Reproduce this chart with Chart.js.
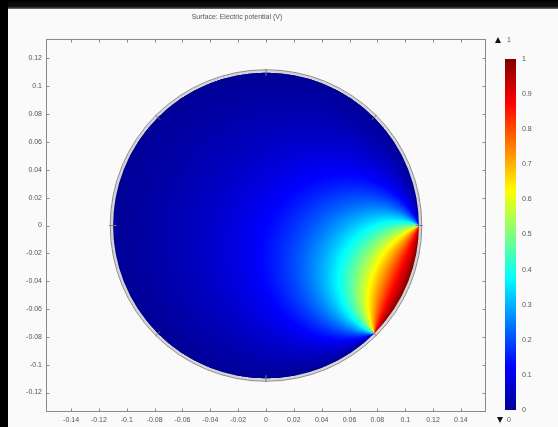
<!DOCTYPE html>
<html>
<head>
<meta charset="utf-8">
<script src="https://cdn.jsdelivr.net/npm/chart.js@4/dist/chart.umd.min.js"></script>
<style>
  html, body { margin: 0; padding: 0; background: #fafafa; }
  #wrap { position: relative; width: 558px; height: 427px; }
  canvas { display: block; }
</style>
</head>
<body>
<div id="wrap"><canvas id="c" width="558" height="427"></canvas></div>
<script>
// Disk geometry (m) and boundary conditions
const diskRadius = [0.11];
const electrodeArcDeg = [-45, 0];          // arc held at the electrode potential
const boundaryPotential = [1, 0];          // [electrode, grounded rest of rim] (V)
const rimVertexDeg = [0, 45, 90, 135, 180, 225, 270, 315];

// Axis ticks
const xTicks = [-0.14, -0.12, -0.1, -0.08, -0.06, -0.04, -0.02, 0, 0.02, 0.04, 0.06, 0.08, 0.1, 0.12, 0.14];
const yTicks = [-0.12, -0.1, -0.08, -0.06, -0.04, -0.02, 0, 0.02, 0.04, 0.06, 0.08, 0.1, 0.12];
const colorbarTicks = [0, 0.1, 0.2, 0.3, 0.4, 0.5, 0.6, 0.7, 0.8, 0.9, 1];

// Rainbow colour table
const cmapStops = [0, 0.125, 0.375, 0.625, 0.875, 1];
const cmapColors = [[0, 0, 150], [0, 0, 255], [0, 255, 255], [255, 255, 0], [255, 0, 0], [128, 0, 0]];

const FONT = '7px "Liberation Sans", Arial, sans-serif';
const TEXT = '#555';

function cmap(v) {
  v = Math.min(1, Math.max(0, v));
  for (let i = 1; i < cmapStops.length; i++) {
    if (v <= cmapStops[i]) {
      const t = (v - cmapStops[i - 1]) / (cmapStops[i] - cmapStops[i - 1]);
      const a = cmapColors[i - 1], b = cmapColors[i];
      return [a[0] + (b[0] - a[0]) * t, a[1] + (b[1] - a[1]) * t, a[2] + (b[2] - a[2]) * t];
    }
  }
  return cmapColors[cmapColors.length - 1];
}

// Laplace solution in the disk: harmonic measure of the electrode arc
function potential(x, y) {
  const R = diskRadius[0];
  const t1 = electrodeArcDeg[0] * Math.PI / 180, t2 = electrodeArcDeg[1] * Math.PI / 180;
  const ax = R * Math.cos(t1) - x, ay = R * Math.sin(t1) - y;
  const bx = R * Math.cos(t2) - x, by = R * Math.sin(t2) - y;
  let ang = Math.atan2(ax * by - ay * bx, ax * bx + ay * by);
  if (ang < 0) ang += 2 * Math.PI;
  const w = Math.min(1, Math.max(0, (ang - (t2 - t1) / 2) / Math.PI));
  return boundaryPotential[1] + (boundaryPotential[0] - boundaryPotential[1]) * w;
}

const fmt = v => String(parseFloat(v.toFixed(2)));

// Window chrome, title, surface, rim, frame and colour legend
const surfacePlugin = {
  id: 'surface',
  beforeDraw(chart) {
    const ctx = chart.ctx;
    ctx.save();
    ctx.fillStyle = '#fafafa';
    ctx.fillRect(0, 0, chart.width, chart.height);
    const g = ctx.createLinearGradient(0, 0, 0, 9);
    g.addColorStop(0, '#000');
    g.addColorStop(0.75, '#111');
    g.addColorStop(1, '#777');
    ctx.fillStyle = g;
    ctx.fillRect(0, 0, chart.width, 9);
    ctx.fillStyle = '#000';
    ctx.fillRect(0, 0, 8, chart.height);
    ctx.fillStyle = TEXT;
    ctx.font = FONT;
    ctx.textAlign = 'center';
    ctx.textBaseline = 'middle';
    ctx.fillText('Surface: Electric potential (V)', 237, 17);
    ctx.restore();
  },
  beforeDatasetsDraw(chart) {
    const ctx = chart.ctx, area = chart.chartArea;
    const xs = chart.scales.x, ys = chart.scales.y;
    const R = diskRadius[0];
    const w = Math.round(area.right - area.left), h = Math.round(area.bottom - area.top);
    const img = ctx.createImageData(w, h);
    for (let j = 0; j < h; j++) {
      const yv = ys.getValueForPixel(area.top + j + 0.5);
      for (let i = 0; i < w; i++) {
        const xv = xs.getValueForPixel(area.left + i + 0.5);
        if (xv * xv + yv * yv > R * R) continue;
        const c = cmap(potential(xv, yv));
        const k = (j * w + i) * 4;
        img.data[k] = c[0]; img.data[k + 1] = c[1]; img.data[k + 2] = c[2]; img.data[k + 3] = 255;
      }
    }
    const off = document.createElement('canvas');
    off.width = w; off.height = h;
    off.getContext('2d').putImageData(img, 0, 0);
    ctx.drawImage(off, area.left, area.top);

    // rim of the disk
    const cx = xs.getPixelForValue(0), cy = ys.getPixelForValue(0);
    const rp = xs.getPixelForValue(R) - cx;
    ctx.save();
    ctx.lineWidth = 2.5;
    ctx.strokeStyle = '#d4d4d4';
    ctx.beginPath(); ctx.arc(cx, cy, rp + 1, 0, 2 * Math.PI); ctx.stroke();
    ctx.lineWidth = 1;
    ctx.strokeStyle = '#8c8c8c';
    ctx.beginPath(); ctx.arc(cx, cy, rp + 2.6, 0, 2 * Math.PI); ctx.stroke();
    ctx.restore();
  },
  afterDraw(chart) {
    const ctx = chart.ctx, a = chart.chartArea;
    const xs = chart.scales.x, ys = chart.scales.y;
    ctx.save();
    ctx.strokeStyle = '#8a8a8a';
    ctx.lineWidth = 1;
    const L = Math.round(a.left) + 0.5, T = Math.round(a.top) + 0.5;
    const Rr = Math.round(a.right) - 0.5, B = Math.round(a.bottom) - 0.5;
    ctx.strokeRect(L, T, Rr - L, B - T);
    ctx.beginPath();
    xTicks.forEach(v => {
      const p = Math.round(xs.getPixelForValue(v)) + 0.5;
      ctx.moveTo(p, B); ctx.lineTo(p, B - 3);
      ctx.moveTo(p, T); ctx.lineTo(p, T + 3);
    });
    yTicks.forEach(v => {
      const p = Math.round(ys.getPixelForValue(v)) + 0.5;
      ctx.moveTo(L, p); ctx.lineTo(L + 3, p);
      ctx.moveTo(Rr, p); ctx.lineTo(Rr - 3, p);
    });
    ctx.stroke();

    // colour legend
    const bx = 505, bw = 11, top = 59, bot = 410;
    for (let yy = top; yy < bot; yy++) {
      const c = cmap((bot - (yy + 0.5)) / (bot - top));
      ctx.fillStyle = `rgb(${c[0] | 0},${c[1] | 0},${c[2] | 0})`;
      ctx.fillRect(bx, yy, bw, 1);
    }
    ctx.fillStyle = TEXT;
    ctx.font = FONT;
    ctx.textAlign = 'left';
    ctx.textBaseline = 'middle';
    colorbarTicks.forEach(v => {
      ctx.fillText(fmt(v), 522, bot - v * (bot - top));
    });
    // max / min markers
    ctx.fillStyle = '#111';
    ctx.beginPath(); ctx.moveTo(495, 43); ctx.lineTo(501, 43); ctx.lineTo(498, 37); ctx.closePath(); ctx.fill();
    ctx.beginPath(); ctx.moveTo(497, 417); ctx.lineTo(503, 417); ctx.lineTo(500, 423); ctx.closePath(); ctx.fill();
    ctx.fillStyle = TEXT;
    ctx.fillText(fmt(colorbarTicks[colorbarTicks.length - 1]), 507, 40);
    ctx.fillText(fmt(colorbarTicks[0]), 507, 420);
    ctx.restore();
  }
};

const R0 = diskRadius[0];
const rimPoints = rimVertexDeg.map(d => ({ x: R0 * Math.cos(d * Math.PI / 180), y: R0 * Math.sin(d * Math.PI / 180) }));

new Chart(document.getElementById('c'), {
  type: 'scatter',
  data: {
    datasets: [{
      label: 'rim vertices',
      data: rimPoints,
      pointStyle: 'line',
      pointRadius: 3.5,
      pointRotation: rimVertexDeg.map(d => -d),
      borderColor: '#7a7a7a',
      borderWidth: 1,
      showLine: false
    }]
  },
  options: {
    responsive: false,
    animation: false,
    devicePixelRatio: 1,
    layout: { padding: { left: 0, top: 39, right: 72, bottom: 0 } },
    plugins: { legend: { display: false }, tooltip: { enabled: false } },
    scales: {
      x: {
        type: 'linear', min: -0.158, max: 0.158,
        grid: { display: false, drawTicks: false }, border: { display: false },
        afterBuildTicks: s => { s.ticks = xTicks.map(v => ({ value: v })); },
        afterFit: s => { s.height = 15; },
        ticks: { padding: 4, color: TEXT, font: { family: '"Liberation Sans", Arial, sans-serif', size: 7 }, maxRotation: 0, autoSkip: false, callback: v => fmt(v) }
      },
      y: {
        type: 'linear', min: -0.134, max: 0.134,
        grid: { display: false, drawTicks: false }, border: { display: false },
        afterBuildTicks: s => { s.ticks = yTicks.map(v => ({ value: v })); },
        afterFit: s => { s.width = 46; },
        ticks: { padding: 4, color: TEXT, font: { family: '"Liberation Sans", Arial, sans-serif', size: 7 }, autoSkip: false, callback: v => fmt(v) }
      }
    }
  },
  plugins: [surfacePlugin]
});
</script>
</body>
</html>
